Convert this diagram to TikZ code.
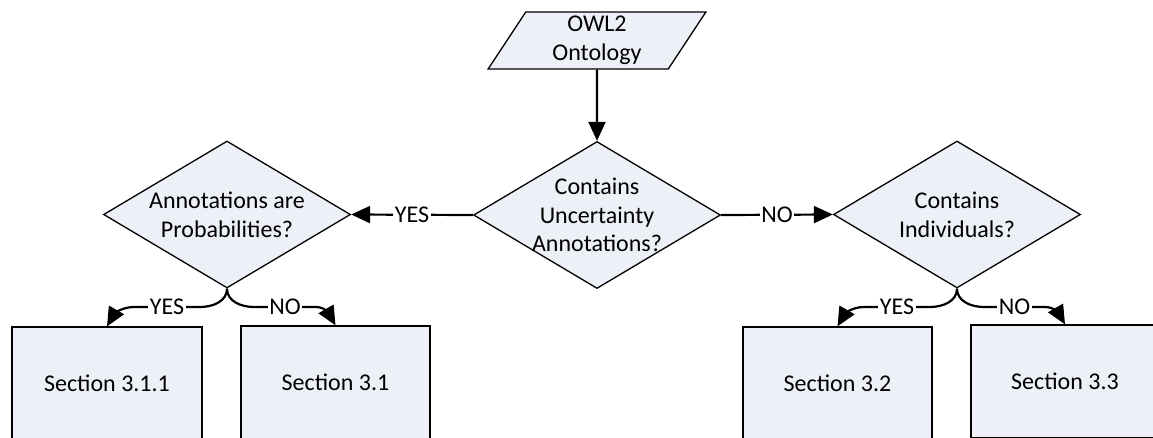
\documentclass[tikz,border=0pt]{standalone}
\usepackage{fontspec}
\setmainfont{Carlito}
\usetikzlibrary{shapes.geometric,arrows.meta}
\definecolor{boxfill}{RGB}{237,240,246}
\tikzset{
  base/.style={draw=black, line width=1.3pt, fill=boxfill, inner sep=0pt,
    font=\fontsize{24}{28.5}\selectfont, align=center},
  decision/.style={base, diamond, minimum width=247pt, minimum height=147pt},
  io/.style={base, trapezium, trapezium left angle=64, trapezium right angle=116,
    trapezium stretches=true, minimum width=218pt, minimum height=57pt},
  sectbox/.style={base, rectangle, minimum width=189pt, minimum height=113pt},
  txt/.style={inner sep=0pt, font=\fontsize{24}{28.5}\selectfont, align=center},
  conn/.style={line width=2.2pt, -{Triangle[length=19pt,width=17pt]}},
  lbl/.style={fill=white, inner sep=1.5pt, font=\fontsize{24}{28.5}\selectfont}
}
\begin{document}
\begin{tikzpicture}[x=1pt,y=-1pt]
\useasboundingbox (0,0) rectangle (1153,437);
\clip (0,0) rectangle (1153,437);
\fill[white] (0,0) rectangle (1153,437);

\node[io] (owl) at (597,40.5) {OWL2\\Ontology};

\node[decision] (C) at (597,215) {};
\node[txt] (Ct) at (597,215) {Contains\\Uncertainty\\Annotations?};

\node[decision] (L) at (227,214.5) {};
\node[txt] (Lt) at (227,215) {Annotations are\\Probabilities?};

\node[decision] (R) at (957,214.5) {};
\node[txt] (Rt) at (957,215) {Contains\\Individuals?};

\node[sectbox, minimum width=190pt] (s311) at (107,383.5) {Section 3.1.1};
\node[sectbox] (s31) at (335.5,382.5) {Section 3.1};
\node[sectbox] (s32) at (837.5,383.5) {Section 3.2};
\node[sectbox, minimum width=188pt] (s33) at (1065,381.5) {Section 3.3};

\draw[conn] (owl.south) -- (C.north);
\draw[conn] (C.west) -- node[lbl] {YES} (L.east);
\draw[conn] (C.east) -- node[lbl] {NO} (R.west);

\coordinate (la) at (200,307);
\coordinate (lb) at (134,307);
\coordinate (lc) at (254,307);
\coordinate (ld) at (316,307);
\draw[conn] (L.south) to[out=-90,in=0] (la) -- node[lbl] {YES} (lb) to[out=180,in=60] (s311.north);
\draw[conn] (L.south) to[out=-90,in=180] (lc) -- node[lbl] {NO} (ld) to[out=0,in=120] (s31.north);

\coordinate (ra) at (930,307);
\coordinate (rb) at (864,307);
\coordinate (rc) at (984,307);
\coordinate (rd) at (1045,307);
\draw[conn] (R.south) to[out=-90,in=0] (ra) -- node[lbl] {YES} (rb) to[out=180,in=60] (s32.north);
\draw[conn] (R.south) to[out=-90,in=180] (rc) -- node[lbl] {NO} (rd) to[out=0,in=120] (s33.north);
\end{tikzpicture}
\end{document}
